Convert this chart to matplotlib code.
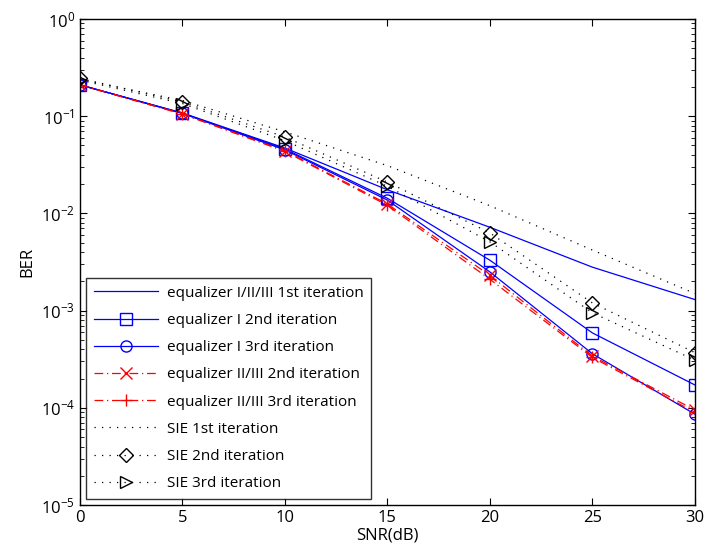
import matplotlib
matplotlib.use("Agg")
import matplotlib.pyplot as plt
from matplotlib.ticker import LogLocator, NullFormatter

plt.rcParams['font.family'] = ['Open Sans', 'DejaVu Sans']

snr = [0, 5, 10, 15, 20, 25, 30]
eq_1st = [0.21, 0.108, 0.047, 0.0175, 0.0072, 0.0028, 0.0013]
eqI_2nd = [0.21, 0.107, 0.046, 0.0143, 0.0033, 0.00059, 0.000172]
eqI_3rd = [0.21, 0.107, 0.045, 0.0137, 0.0025, 0.00036, 0.000086]
eqII_2nd = [0.21, 0.106, 0.044, 0.0125, 0.0023, 0.00034, 0.000095]
eqII_3rd = [0.21, 0.105, 0.0435, 0.0121, 0.0021, 0.00033, 0.00009]
sie_1st = [0.24, 0.145, 0.069, 0.031, 0.012, 0.0042, 0.0015]
sie_2nd = [0.245, 0.14, 0.061, 0.021, 0.0063, 0.0012, 0.00037]
sie_3rd = [0.235, 0.135, 0.056, 0.019, 0.0051, 0.00095, 0.00031]

labels = ['equalizer I/II/III 1st iteration', 'equalizer I 2nd iteration',
          'equalizer I 3rd iteration', 'equalizer II/III 2nd iteration',
          'equalizer II/III 3rd iteration', 'SIE 1st iteration',
          'SIE 2nd iteration', 'SIE 3rd iteration']

fig = plt.figure(figsize=(7.04, 5.54), dpi=100)
ax = fig.add_axes([0.1136, 0.0884, 0.8734, 0.8773])

blue = '#0000ff'
red = '#ff0000'
lw = 0.9
ms = 8
dot = (0, (1, 5))
dashdot = (0, (7, 3, 1, 3))
ax.plot(snr, eq_1st, '-', color=blue, lw=lw, label=labels[0])
ax.plot(snr, eqI_2nd, '-', color=blue, lw=lw, marker='s', ms=ms, mfc='none', mec=blue, label=labels[1])
ax.plot(snr, eqI_3rd, '-', color=blue, lw=lw, marker='o', ms=ms, mfc='none', mec=blue, label=labels[2])
ax.plot(snr, eqII_2nd, linestyle=dashdot, color=red, lw=lw, marker='x', ms=ms, mec=red, label=labels[3])
ax.plot(snr, eqII_3rd, linestyle=dashdot, color=red, lw=lw, marker='+', ms=ms + 1, mec=red, label=labels[4])
ax.plot(snr, sie_1st, linestyle=dot, color='black', lw=lw, label=labels[5])
ax.plot(snr, sie_2nd, linestyle=dot, color='black', lw=lw, marker='D', ms=ms - 1, mfc='none', mec='black', label=labels[6])
ax.plot(snr, sie_3rd, linestyle=dot, color='black', lw=lw, marker='>', ms=ms, mfc='none', mec='black', label=labels[7])

ax.set_yscale('log')
ax.set_xlim(0, 30)
ax.set_ylim(1e-5, 1)
ax.set_xticks([0, 5, 10, 15, 20, 25, 30])
ax.yaxis.set_major_locator(LogLocator(base=10, numticks=10))
ax.yaxis.set_minor_locator(LogLocator(base=10, subs=range(2, 10), numticks=20))
ax.yaxis.set_minor_formatter(NullFormatter())
ax.tick_params(which='both', direction='in', top=True, right=True, labelsize=12)
ax.tick_params(which='major', length=5)
ax.tick_params(which='minor', length=3)
for s in ax.spines.values():
    s.set_linewidth(1.0)

ax.set_xlabel('SNR(dB)', fontsize=12, labelpad=1)
ax.set_ylabel('BER', fontsize=12, labelpad=4)

leg = ax.legend(loc='lower left', fontsize=11, handlelength=4.2, frameon=True,
                fancybox=False, edgecolor='black', borderaxespad=0.4,
                labelspacing=0.8, borderpad=0.5, handletextpad=0.6)
leg.get_frame().set_linewidth(1.0)

fig.savefig('out.png', dpi=100)
